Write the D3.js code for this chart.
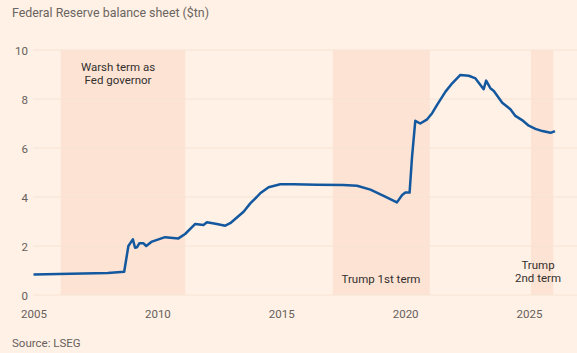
<!DOCTYPE html>
<html>
<head>
<meta charset="utf-8">
<script src="https://cdn.jsdelivr.net/npm/d3@7"></script>
<style>
  html, body { margin: 0; padding: 0; background: #fff1e5; }
  svg { display: block; font-family: Roboto, "Open Sans", sans-serif; }
</style>
</head>
<body>
<svg id="chart" width="577" height="353"></svg>
<script>
const dates = [2005.0, 2006.0, 2007.0, 2008.0, 2008.66, 2008.83, 2009.01, 2009.10, 2009.18, 2009.27, 2009.44, 2009.55, 2009.78, 2010.31, 2010.85, 2011.12, 2011.53, 2011.86, 2012.0, 2012.40, 2012.74, 2012.94, 2013.48, 2013.75, 2014.02, 2014.15, 2014.49, 2014.96, 2015.5, 2016.44, 2017.5, 2018.06, 2018.6, 2019.13, 2019.67, 2019.88, 2020.01, 2020.18, 2020.28, 2020.41, 2020.61, 2020.89, 2021.09, 2021.29, 2021.63, 2021.90, 2022.23, 2022.57, 2022.84, 2023.17, 2023.27, 2023.44, 2023.58, 2023.92, 2024.25, 2024.45, 2024.72, 2024.99, 2025.26, 2025.54, 2025.87, 2026.05];
const values = [0.84, 0.86, 0.88, 0.90, 0.95, 2.00, 2.27, 1.93, 1.95, 2.11, 2.11, 2.00, 2.18, 2.36, 2.31, 2.49, 2.90, 2.86, 2.97, 2.90, 2.83, 2.93, 3.40, 3.74, 4.01, 4.15, 4.40, 4.52, 4.52, 4.50, 4.49, 4.46, 4.30, 4.05, 3.78, 4.08, 4.18, 4.18, 5.65, 7.11, 7.00, 7.17, 7.42, 7.76, 8.30, 8.64, 8.98, 8.95, 8.84, 8.40, 8.75, 8.44, 8.33, 7.85, 7.58, 7.31, 7.14, 6.91, 6.78, 6.69, 6.62, 6.69];

const xTicks = [2005, 2010, 2015, 2020, 2025];
const yTicks = [0, 2, 4, 6, 8, 10];

const bandStarts = [2006.1, 2017.08, 2025.08];
const bandEnds = [2011.12, 2021.0, 2025.98];
const bandLabels = [["Warsh term as", "Fed governor"], ["Trump 1st term"], ["Trump", "2nd term"]];

const title = "Federal Reserve balance sheet ($tn)";
const source = "Source: LSEG";

const svg = d3.select("#chart");
const x = d3.scaleLinear().domain([2005, 2025]).range([33.5, 529]);
const y = d3.scaleLinear().domain([0, 10]).range([295, 50]);

// bands
svg.append("g").selectAll("rect").data(bandStarts).join("rect")
  .attr("x", (d) => x(d))
  .attr("width", (d, i) => x(bandEnds[i]) - x(d))
  .attr("y", y(10))
  .attr("height", y(0) - y(10))
  .attr("fill", "#fce3d4");

// gridlines
svg.append("g").selectAll("line").data(yTicks).join("line")
  .attr("x1", 33).attr("x2", 577)
  .attr("y1", (d) => y(d)).attr("y2", (d) => y(d))
  .attr("stroke", "#f6e3d4").attr("stroke-width", 1);

// y axis labels
const yAxis = d3.axisLeft(y).tickValues(yTicks).tickSize(0).tickPadding(0).tickFormat(d3.format("d"));
const gy = svg.append("g").attr("transform", "translate(28,0)").call(yAxis);
gy.select(".domain").remove();
gy.selectAll("text").attr("fill", "#66605c").attr("font-size", 11.5).attr("font-family", "Roboto, sans-serif").attr("dy", "0.35em");

// x axis labels
const xAxis = d3.axisBottom(x).tickValues(xTicks).tickSize(0).tickPadding(0).tickFormat(d3.format("d"));
const gx = svg.append("g").attr("transform", "translate(0,310)").call(xAxis);
gx.select(".domain").remove();
gx.selectAll("text").attr("fill", "#66605c").attr("font-size", 11.5).attr("font-family", "Roboto, sans-serif").attr("dy", "0.71em");

// line
const line = d3.line().x((d, i) => x(dates[i])).y((d) => y(d));
svg.append("path").datum(values)
  .attr("d", line)
  .attr("fill", "none")
  .attr("stroke", "#13589f")
  .attr("stroke-width", 2.5)
  .attr("stroke-linejoin", "round");

// band labels
const labelPos = [
  { cx: 118, ys: [71, 84] },
  { cx: 381, ys: [283] },
  { cx: 538, ys: [269, 282] }
];
bandLabels.forEach((lines, i) => {
  lines.forEach((t, j) => {
    svg.append("text")
      .attr("x", labelPos[i].cx)
      .attr("y", labelPos[i].ys[j])
      .attr("text-anchor", "middle")
      .attr("font-size", 11.5)
      .attr("fill", "#33302e")
      .text(t);
  });
});

svg.append("text").attr("x", 12).attr("y", 17)
  .attr("font-size", 12.4).attr("fill", "#6b6561").text(title);
svg.append("text").attr("x", 12).attr("y", 347)
  .attr("font-size", 11.5).attr("fill", "#66605c").text(source);
</script>
</body>
</html>
